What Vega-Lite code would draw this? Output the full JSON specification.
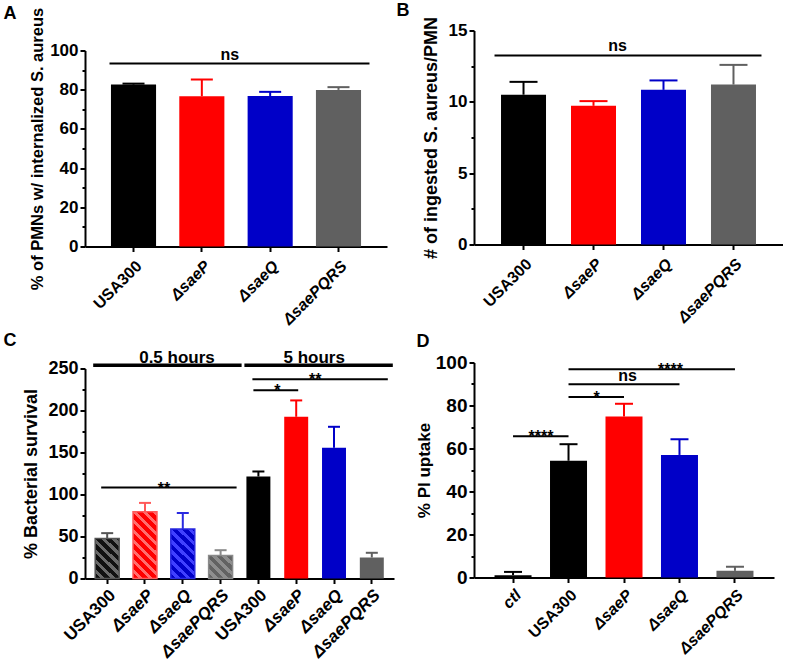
{
"$schema": "https://vega.github.io/schema/vega-lite/v6.json",
"padding": {"left": 3, "top": 1.5, "right": 0, "bottom": 0},
"config": {
  "font": "Liberation Sans",
  "view": {"stroke": null},
  "axis": {"grid": false, "domainColor": "black", "domainWidth": 2, "tickColor": "black", "tickWidth": 2, "tickSize": 5, "labelColor": "black", "labelFontWeight": "bold", "labelFontSize": 17, "labelFont": "Liberation Sans", "titleFont": "Liberation Sans", "titleFontWeight": "bold", "titleColor": "black", "titleFontSize": 16, "labelPadding": 2},
  "axisX": {"labelPadding": 6},
  "title": {"anchor": "start", "frame": "group", "fontSize": 18, "fontWeight": "bold", "baseline": "alphabetic", "color": "black", "font": "Liberation Sans"},
  "text": {"font": "Liberation Sans", "fontWeight": "bold", "color": "black"}
},
"columns": 2,
"bounds": "flush",
"spacing": {"row": 116, "column": 80},
"concat": [
{
  "width": 302, "height": 216,
  "title": {"text": "A", "dx": -81.5, "offset": -17.5},
  "data": {"values": [
    {"cond": "USA300", "mean": 82.6, "hi": 83.1},
    {"cond": "ΔsaeP", "mean": 76.7, "hi": 85.2},
    {"cond": "ΔsaeQ", "mean": 76.8, "hi": 78.9},
    {"cond": "ΔsaePQRS", "mean": 79.9, "hi": 81.3}
  ]},
  "resolve": {"axis": {"y": "independent"}},
  "layer": [
    {"mark": {"type": "bar"},
     "encoding": {
      "x": {"field": "cond", "type": "nominal", "title": null, "scale": {"domain": ["USA300", "ΔsaeP", "ΔsaeQ", "ΔsaePQRS"], "paddingInner": 0.34, "paddingOuter": 0.38},
            "axis": {"labelAngle": -45, "labelFontSize": 16, "labelFontStyle": {"condition": {"test": "datum.value != 'USA300'", "value": "italic"}, "value": "normal"}}},
      "y": {"field": "mean", "type": "quantitative", "scale": {"domain": [0, 100], "range": [216, 20], "nice": false},
            "axis": {"values": [0, 20, 40, 60, 80, 100], "title": "% of  PMNs w/ internalized S. aureus", "titleFontSize": 16.5, "titlePadding": 4}},
      "color": {"field": "cond", "type": "nominal", "scale": {"domain": ["USA300", "ΔsaeP", "ΔsaeQ", "ΔsaePQRS"], "range": ["#000000", "#ff0000", "#0000c8", "#606060"]}, "legend": null}
     }},
    {"mark": {"type": "rule", "strokeWidth": 2},
     "encoding": {
      "x": {"field": "cond", "type": "nominal", "title": null},
      "y": {"field": "mean", "type": "quantitative", "axis": {"orient": "left", "values": [10, 30, 50, 70, 90], "labels": false, "domain": false, "tickSize": 3, "title": null}},
      "y2": {"field": "hi"},
      "color": {"field": "cond", "type": "nominal", "legend": null}
     }},
    {"mark": {"type": "rule", "strokeWidth": 2, "xOffset": -11, "x2Offset": 11},
     "encoding": {
      "x": {"field": "cond", "type": "nominal", "title": null},
      "x2": {"field": "cond"},
      "y": {"field": "hi", "type": "quantitative", "axis": null},
      "color": {"field": "cond", "type": "nominal", "legend": null}
     }},
    {"data": {"values": [{"a": "USA300", "b": "ΔsaePQRS", "y": 93.4}]},
     "mark": {"type": "rule", "strokeWidth": 2, "color": "black", "xOffset": -24, "x2Offset": 31},
     "encoding": {"x": {"field": "a", "type": "nominal", "title": null}, "x2": {"field": "b"}, "y": {"field": "y", "type": "quantitative", "axis": null}}},
    {"data": {"values": [{"x": "ΔsaeP", "y": 93.4, "label": "ns"}]},
     "mark": {"type": "text", "dx": 28, "dy": -3, "baseline": "alphabetic", "fontSize": 16},
     "encoding": {"x": {"field": "x", "type": "nominal", "title": null}, "y": {"field": "y", "type": "quantitative", "axis": null}, "text": {"field": "label"}}}
  ]
},
{
  "width": 309, "height": 214,
  "title": {"text": "B", "dx": -77.5, "offset": -4},
  "data": {"values": [
    {"cond": "USA300", "mean": 10.5, "hi": 11.4},
    {"cond": "ΔsaeP", "mean": 9.72, "hi": 10.05},
    {"cond": "ΔsaeQ", "mean": 10.84, "hi": 11.5},
    {"cond": "ΔsaePQRS", "mean": 11.21, "hi": 12.59}
  ]},
  "resolve": {"axis": {"y": "independent"}},
  "layer": [
    {"mark": {"type": "bar"},
     "encoding": {
      "x": {"field": "cond", "type": "nominal", "title": null, "scale": {"domain": ["USA300", "ΔsaeP", "ΔsaeQ", "ΔsaePQRS"], "paddingInner": 0.357, "paddingOuter": 0.386},
            "axis": {"labelAngle": -45, "labelFontSize": 16, "labelFontStyle": {"condition": {"test": "datum.value != 'USA300'", "value": "italic"}, "value": "normal"}}},
      "y": {"field": "mean", "type": "quantitative", "scale": {"domain": [0, 15], "nice": false},
            "axis": {"values": [0, 5, 10, 15], "title": "# of ingested S. aureus/PMN", "titleFontSize": 18, "titlePadding": 8}},
      "color": {"field": "cond", "type": "nominal", "scale": {"domain": ["USA300", "ΔsaeP", "ΔsaeQ", "ΔsaePQRS"], "range": ["#000000", "#ff0000", "#0000c8", "#606060"]}, "legend": null}
     }},
    {"mark": {"type": "rule", "strokeWidth": 2},
     "encoding": {
      "x": {"field": "cond", "type": "nominal", "title": null},
      "y": {"field": "mean", "type": "quantitative", "axis": {"orient": "left", "values": [2.5, 7.5, 12.5], "labels": false, "domain": false, "tickSize": 3, "title": null}},
      "y2": {"field": "hi"},
      "color": {"field": "cond", "type": "nominal", "legend": null}
     }},
    {"mark": {"type": "rule", "strokeWidth": 2, "xOffset": -14, "x2Offset": 14},
     "encoding": {
      "x": {"field": "cond", "type": "nominal", "title": null},
      "x2": {"field": "cond"},
      "y": {"field": "hi", "type": "quantitative", "axis": null},
      "color": {"field": "cond", "type": "nominal", "legend": null}
     }},
    {"data": {"values": [{"a": "USA300", "b": "ΔsaePQRS", "y": 13.25}]},
     "mark": {"type": "rule", "strokeWidth": 2, "color": "black", "xOffset": -29, "x2Offset": 28},
     "encoding": {"x": {"field": "a", "type": "nominal", "title": null}, "x2": {"field": "b"}, "y": {"field": "y", "type": "quantitative", "axis": null}}},
    {"data": {"values": [{"x": "ΔsaeP", "y": 13.25, "label": "ns"}]},
     "mark": {"type": "text", "dx": 24, "dy": -4, "baseline": "alphabetic", "fontSize": 16},
     "encoding": {"x": {"field": "x", "type": "nominal", "title": null}, "y": {"field": "y", "type": "quantitative", "axis": null}, "text": {"field": "label"}}}
  ]
},
{
  "width": 309, "height": 216,
  "title": {"text": "C", "dx": -81.5, "offset": -1},
  "data": {"values": [
    {"key": "0.5|USA300", "mean": 47.6, "hi": 54},
    {"key": "0.5|ΔsaeP", "mean": 79.4, "hi": 90},
    {"key": "0.5|ΔsaeQ", "mean": 59, "hi": 78},
    {"key": "0.5|ΔsaePQRS", "mean": 27.4, "hi": 33.7},
    {"key": "5|USA300", "mean": 121.4, "hi": 127.4},
    {"key": "5|ΔsaeP", "mean": 192.5, "hi": 212},
    {"key": "5|ΔsaeQ", "mean": 155.6, "hi": 180.6},
    {"key": "5|ΔsaePQRS", "mean": 25, "hi": 30.6}
  ]},
  "resolve": {"axis": {"y": "independent"}},
  "layer": [
    {"transform": [{"filter": "indexof(datum.key, '5|') == 0"}],
     "mark": {"type": "bar"},
     "encoding": {
      "x": {"field": "key", "type": "nominal", "title": null, "scale": {"domain": ["0.5|USA300", "0.5|ΔsaeP", "0.5|ΔsaeQ", "0.5|ΔsaePQRS", "5|USA300", "5|ΔsaeP", "5|ΔsaeQ", "5|ΔsaePQRS"], "paddingInner": 0.366, "paddingOuter": 0.27},
            "axis": {"labelAngle": -45, "labelFontSize": 17, "labelPadding": 3, "labelExpr": "split(datum.value, '|')[1]", "labelFontStyle": {"condition": {"test": "indexof(datum.value, 'USA300') < 0", "value": "italic"}, "value": "normal"}}},
      "y": {"field": "mean", "type": "quantitative", "scale": {"domain": [0, 250], "range": [216, 6], "nice": false},
            "axis": {"values": [0, 50, 100, 150, 200, 250], "labelFontSize": 18, "title": "% Bacterial survival", "titleFontSize": 18, "titlePadding": 7}},
      "fill": {"field": "key", "type": "nominal", "legend": null, "scale": {"domain": ["5|USA300", "5|ΔsaeP", "5|ΔsaeQ", "5|ΔsaePQRS"], "range": ["#000000", "#ff0000", "#0000c8", "#606060"]}}
     }},
    {"transform": [{"filter": "datum.key == '0.5|USA300'"}],
     "mark": {"type": "bar", "strokeWidth": 1.5, "stroke": "#555555", "fill": {"gradient": "linear", "x1": 0, "y1": 1, "x2": 0.693, "y2": -0.18, "stops": [
          {"offset": 0, "color": "#111111"}, {"offset": 0.087, "color": "#111111"}, {"offset": 0.087, "color": "#6a6a6a"}, {"offset": 0.158, "color": "#6a6a6a"},
          {"offset": 0.158, "color": "#111111"}, {"offset": 0.244, "color": "#111111"}, {"offset": 0.244, "color": "#6a6a6a"}, {"offset": 0.315, "color": "#6a6a6a"},
          {"offset": 0.315, "color": "#111111"}, {"offset": 0.402, "color": "#111111"}, {"offset": 0.402, "color": "#6a6a6a"}, {"offset": 0.473, "color": "#6a6a6a"},
          {"offset": 0.473, "color": "#111111"}, {"offset": 0.559, "color": "#111111"}, {"offset": 0.559, "color": "#6a6a6a"}, {"offset": 0.63, "color": "#6a6a6a"},
          {"offset": 0.63, "color": "#111111"}, {"offset": 0.717, "color": "#111111"}, {"offset": 0.717, "color": "#6a6a6a"}, {"offset": 0.788, "color": "#6a6a6a"},
          {"offset": 0.788, "color": "#111111"}, {"offset": 0.874, "color": "#111111"}, {"offset": 0.874, "color": "#6a6a6a"}, {"offset": 0.945, "color": "#6a6a6a"},
          {"offset": 0.945, "color": "#111111"}, {"offset": 1, "color": "#111111"}]}},
     "encoding": {"x": {"field": "key", "type": "nominal", "title": null}, "y": {"field": "mean", "type": "quantitative", "axis": null}}},
    {"transform": [{"filter": "datum.key == '0.5|ΔsaeP'"}],
     "mark": {"type": "bar", "strokeWidth": 1.5, "stroke": "#ff5a5a", "fill": {"gradient": "linear", "x1": 0, "y1": 1, "x2": 0.424, "y2": -0.203, "stops": [
          {"offset": 0, "color": "#ff0000"}, {"offset": 0.061, "color": "#ff0000"}, {"offset": 0.061, "color": "#ff6e6e"}, {"offset": 0.111, "color": "#ff6e6e"},
          {"offset": 0.111, "color": "#ff0000"}, {"offset": 0.172, "color": "#ff0000"}, {"offset": 0.172, "color": "#ff6e6e"}, {"offset": 0.222, "color": "#ff6e6e"},
          {"offset": 0.222, "color": "#ff0000"}, {"offset": 0.283, "color": "#ff0000"}, {"offset": 0.283, "color": "#ff6e6e"}, {"offset": 0.333, "color": "#ff6e6e"},
          {"offset": 0.333, "color": "#ff0000"}, {"offset": 0.394, "color": "#ff0000"}, {"offset": 0.394, "color": "#ff6e6e"}, {"offset": 0.444, "color": "#ff6e6e"},
          {"offset": 0.444, "color": "#ff0000"}, {"offset": 0.505, "color": "#ff0000"}, {"offset": 0.505, "color": "#ff6e6e"}, {"offset": 0.555, "color": "#ff6e6e"},
          {"offset": 0.555, "color": "#ff0000"}, {"offset": 0.616, "color": "#ff0000"}, {"offset": 0.616, "color": "#ff6e6e"}, {"offset": 0.665, "color": "#ff6e6e"},
          {"offset": 0.665, "color": "#ff0000"}, {"offset": 0.726, "color": "#ff0000"}, {"offset": 0.726, "color": "#ff6e6e"}, {"offset": 0.776, "color": "#ff6e6e"},
          {"offset": 0.776, "color": "#ff0000"}, {"offset": 0.837, "color": "#ff0000"}, {"offset": 0.837, "color": "#ff6e6e"}, {"offset": 0.887, "color": "#ff6e6e"},
          {"offset": 0.887, "color": "#ff0000"}, {"offset": 0.948, "color": "#ff0000"}, {"offset": 0.948, "color": "#ff6e6e"}, {"offset": 1, "color": "#ff6e6e"}]}},
     "encoding": {"x": {"field": "key", "type": "nominal", "title": null}, "y": {"field": "mean", "type": "quantitative", "axis": null}}},
    {"transform": [{"filter": "datum.key == '0.5|ΔsaeQ'"}],
     "mark": {"type": "bar", "strokeWidth": 1.5, "stroke": "#2a2ae0", "fill": {"gradient": "linear", "x1": 0, "y1": 1, "x2": 0.57, "y2": -0.204, "stops": [
          {"offset": 0, "color": "#0000c8"}, {"offset": 0.075, "color": "#0000c8"}, {"offset": 0.075, "color": "#4040ff"}, {"offset": 0.137, "color": "#4040ff"},
          {"offset": 0.137, "color": "#0000c8"}, {"offset": 0.212, "color": "#0000c8"}, {"offset": 0.212, "color": "#4040ff"}, {"offset": 0.274, "color": "#4040ff"},
          {"offset": 0.274, "color": "#0000c8"}, {"offset": 0.349, "color": "#0000c8"}, {"offset": 0.349, "color": "#4040ff"}, {"offset": 0.41, "color": "#4040ff"},
          {"offset": 0.41, "color": "#0000c8"}, {"offset": 0.485, "color": "#0000c8"}, {"offset": 0.485, "color": "#4040ff"}, {"offset": 0.547, "color": "#4040ff"},
          {"offset": 0.547, "color": "#0000c8"}, {"offset": 0.622, "color": "#0000c8"}, {"offset": 0.622, "color": "#4040ff"}, {"offset": 0.684, "color": "#4040ff"},
          {"offset": 0.684, "color": "#0000c8"}, {"offset": 0.759, "color": "#0000c8"}, {"offset": 0.759, "color": "#4040ff"}, {"offset": 0.821, "color": "#4040ff"},
          {"offset": 0.821, "color": "#0000c8"}, {"offset": 0.896, "color": "#0000c8"}, {"offset": 0.896, "color": "#4040ff"}, {"offset": 0.958, "color": "#4040ff"},
          {"offset": 0.958, "color": "#0000c8"}, {"offset": 1, "color": "#0000c8"}]}},
     "encoding": {"x": {"field": "key", "type": "nominal", "title": null}, "y": {"field": "mean", "type": "quantitative", "axis": null}}},
    {"transform": [{"filter": "datum.key == '0.5|ΔsaePQRS'"}],
     "mark": {"type": "bar", "strokeWidth": 1.5, "stroke": "#8a8a8a", "fill": {"gradient": "linear", "x1": 0, "y1": 1, "x2": 1.011, "y2": 0.011, "stops": [
          {"offset": 0, "color": "#626262"}, {"offset": 0.118, "color": "#626262"}, {"offset": 0.118, "color": "#8e8e8e"}, {"offset": 0.215, "color": "#8e8e8e"},
          {"offset": 0.215, "color": "#626262"}, {"offset": 0.333, "color": "#626262"}, {"offset": 0.333, "color": "#8e8e8e"}, {"offset": 0.43, "color": "#8e8e8e"},
          {"offset": 0.43, "color": "#626262"}, {"offset": 0.548, "color": "#626262"}, {"offset": 0.548, "color": "#8e8e8e"}, {"offset": 0.645, "color": "#8e8e8e"},
          {"offset": 0.645, "color": "#626262"}, {"offset": 0.763, "color": "#626262"}, {"offset": 0.763, "color": "#8e8e8e"}, {"offset": 0.86, "color": "#8e8e8e"},
          {"offset": 0.86, "color": "#626262"}, {"offset": 0.978, "color": "#626262"}, {"offset": 0.978, "color": "#8e8e8e"}, {"offset": 1, "color": "#8e8e8e"}]}},
     "encoding": {"x": {"field": "key", "type": "nominal", "title": null}, "y": {"field": "mean", "type": "quantitative", "axis": null}}},
    {"mark": {"type": "rule", "strokeWidth": 2},
     "encoding": {
      "x": {"field": "key", "type": "nominal", "title": null},
      "y": {"field": "mean", "type": "quantitative", "axis": {"orient": "left", "values": [25, 75, 125, 175, 225], "labels": false, "domain": false, "tickSize": 3, "title": null}},
      "y2": {"field": "hi"},
      "stroke": {"field": "key", "type": "nominal", "legend": null, "scale": {"domain": ["0.5|USA300", "0.5|ΔsaeP", "0.5|ΔsaeQ", "0.5|ΔsaePQRS", "5|USA300", "5|ΔsaeP", "5|ΔsaeQ", "5|ΔsaePQRS"], "range": ["#555555", "#ff5a5a", "#2a2ae0", "#8a8a8a", "#000000", "#ff0000", "#0000c8", "#606060"]}}
     }},
    {"mark": {"type": "rule", "strokeWidth": 2, "xOffset": -6, "x2Offset": 6},
     "encoding": {
      "x": {"field": "key", "type": "nominal", "title": null},
      "x2": {"field": "key"},
      "y": {"field": "hi", "type": "quantitative", "axis": null},
      "stroke": {"field": "key", "type": "nominal", "legend": null}
     }},
    {"data": {"values": [{"a": "0.5|USA300", "b": "0.5|ΔsaePQRS", "y": 254}, {"a": "5|USA300", "b": "5|ΔsaePQRS", "y": 254}]},
     "mark": {"type": "rule", "strokeWidth": 3.5, "color": "black", "xOffset": -14, "x2Offset": 21},
     "encoding": {"x": {"field": "a", "type": "nominal", "title": null}, "x2": {"field": "b"}, "y": {"field": "y", "type": "quantitative", "axis": null}}},
    {"data": {"values": [{"x": "0.5|ΔsaeP", "y": 254, "label": "0.5 hours"}]},
     "mark": {"type": "text", "dx": 32, "dy": -2, "baseline": "alphabetic", "fontSize": 17},
     "encoding": {"x": {"field": "x", "type": "nominal", "title": null}, "y": {"field": "y", "type": "quantitative", "axis": null}, "text": {"field": "label"}}},
    {"data": {"values": [{"x": "5|ΔsaeP", "y": 254, "label": "5 hours"}]},
     "mark": {"type": "text", "dx": 18, "dy": -2, "baseline": "alphabetic", "fontSize": 17},
     "encoding": {"x": {"field": "x", "type": "nominal", "title": null}, "y": {"field": "y", "type": "quantitative", "axis": null}, "text": {"field": "label"}}},
    {"data": {"values": [{"a": "0.5|USA300", "b": "0.5|ΔsaePQRS", "y": 108.3}, {"a": "5|USA300", "b": "5|ΔsaePQRS", "y": 237.3}]},
     "mark": {"type": "rule", "strokeWidth": 2, "color": "black", "xOffset": -6, "x2Offset": 16},
     "encoding": {"x": {"field": "a", "type": "nominal", "title": null}, "x2": {"field": "b"}, "y": {"field": "y", "type": "quantitative", "axis": null}}},
    {"data": {"values": [{"a": "5|USA300", "b": "5|ΔsaeP", "y": 224.2}]},
     "mark": {"type": "rule", "strokeWidth": 2, "color": "black", "xOffset": -5, "x2Offset": 2},
     "encoding": {"x": {"field": "a", "type": "nominal", "title": null}, "x2": {"field": "b"}, "y": {"field": "y", "type": "quantitative", "axis": null}}},
    {"data": {"values": [{"x": "0.5|ΔsaeP", "y": 108.3, "label": "**"}, {"x": "5|USA300", "y": 224.2, "label": "*"}, {"x": "5|ΔsaeP", "y": 237.3, "label": "**"}]},
     "mark": {"type": "text", "dx": 19, "dy": 6, "baseline": "alphabetic", "fontSize": 16},
     "encoding": {"x": {"field": "x", "type": "nominal", "title": null}, "y": {"field": "y", "type": "quantitative", "axis": null}, "text": {"field": "label"}}}
  ]
},
{
  "width": 300, "height": 215,
  "title": {"text": "D", "dx": -57.5, "offset": 2.5},
  "data": {"values": [
    {"cond": "ctl", "mean": 1.1, "hi": 2.6},
    {"cond": "USA300", "mean": 54.3, "hi": 62},
    {"cond": "ΔsaeP", "mean": 74.9, "hi": 80.8},
    {"cond": "ΔsaeQ", "mean": 57, "hi": 64.3},
    {"cond": "ΔsaePQRS", "mean": 3.1, "hi": 5.0}
  ]},
  "resolve": {"axis": {"y": "independent"}},
  "layer": [
    {"mark": {"type": "bar"},
     "encoding": {
      "x": {"field": "cond", "type": "nominal", "title": null, "scale": {"domain": ["ctl", "USA300", "ΔsaeP", "ΔsaeQ", "ΔsaePQRS"], "paddingInner": 0.333, "paddingOuter": 0.37},
            "axis": {"labelAngle": -45, "labelFontSize": 16, "labelPadding": 4, "labelFontStyle": {"condition": {"test": "datum.value != 'USA300'", "value": "italic"}, "value": "normal"}}},
      "y": {"field": "mean", "type": "quantitative", "scale": {"domain": [0, 100], "nice": false},
            "axis": {"values": [0, 20, 40, 60, 80, 100], "labelFontSize": 19, "title": "%  PI uptake", "titleFontSize": 17, "titlePadding": 2}},
      "color": {"field": "cond", "type": "nominal", "scale": {"domain": ["ctl", "USA300", "ΔsaeP", "ΔsaeQ", "ΔsaePQRS"], "range": ["#6e6e6e", "#000000", "#ff0000", "#0000c8", "#606060"]}, "legend": null}
     }},
    {"mark": {"type": "rule", "strokeWidth": 2},
     "encoding": {
      "x": {"field": "cond", "type": "nominal", "title": null},
      "y": {"field": "mean", "type": "quantitative", "axis": {"orient": "left", "values": [10, 30, 50, 70, 90], "labels": false, "domain": false, "tickSize": 3, "title": null}},
      "y2": {"field": "hi"},
      "color": {"field": "cond", "type": "nominal", "legend": null}
     }},
    {"mark": {"type": "rule", "strokeWidth": 2, "xOffset": -9, "x2Offset": 9},
     "encoding": {
      "x": {"field": "cond", "type": "nominal", "title": null},
      "x2": {"field": "cond"},
      "y": {"field": "hi", "type": "quantitative", "axis": null},
      "color": {"field": "cond", "type": "nominal", "legend": null}
     }},
    {"data": {"values": [{"a": "ctl", "b": "USA300", "y": 65.7}, {"a": "USA300", "b": "ΔsaeP", "y": 83.9}, {"a": "USA300", "b": "ΔsaeQ", "y": 89.9}, {"a": "USA300", "b": "ΔsaePQRS", "y": 96.9}]},
     "mark": {"type": "rule", "strokeWidth": 2, "color": "black"},
     "encoding": {"x": {"field": "a", "type": "nominal", "title": null}, "x2": {"field": "b"}, "y": {"field": "y", "type": "quantitative", "axis": null}}},
    {"data": {"values": [{"x": "ctl", "y": 65.7, "label": "****"}, {"x": "USA300", "y": 83.9, "label": "*"}]},
     "mark": {"type": "text", "dx": 28, "dy": 6, "baseline": "alphabetic", "fontSize": 16},
     "encoding": {"x": {"field": "x", "type": "nominal", "title": null}, "y": {"field": "y", "type": "quantitative", "axis": null}, "text": {"field": "label"}}},
    {"data": {"values": [{"x": "ΔsaeQ", "y": 96.9, "label": "****"}]},
     "mark": {"type": "text", "dx": -9, "dy": 6, "baseline": "alphabetic", "fontSize": 16},
     "encoding": {"x": {"field": "x", "type": "nominal", "title": null}, "y": {"field": "y", "type": "quantitative", "axis": null}, "text": {"field": "label"}}},
    {"data": {"values": [{"x": "ΔsaeP", "y": 89.9, "label": "ns"}]},
     "mark": {"type": "text", "dx": 3.5, "dy": -3, "baseline": "alphabetic", "fontSize": 16},
     "encoding": {"x": {"field": "x", "type": "nominal", "title": null}, "y": {"field": "y", "type": "quantitative", "axis": null}, "text": {"field": "label"}}}
  ]
}
]
}
